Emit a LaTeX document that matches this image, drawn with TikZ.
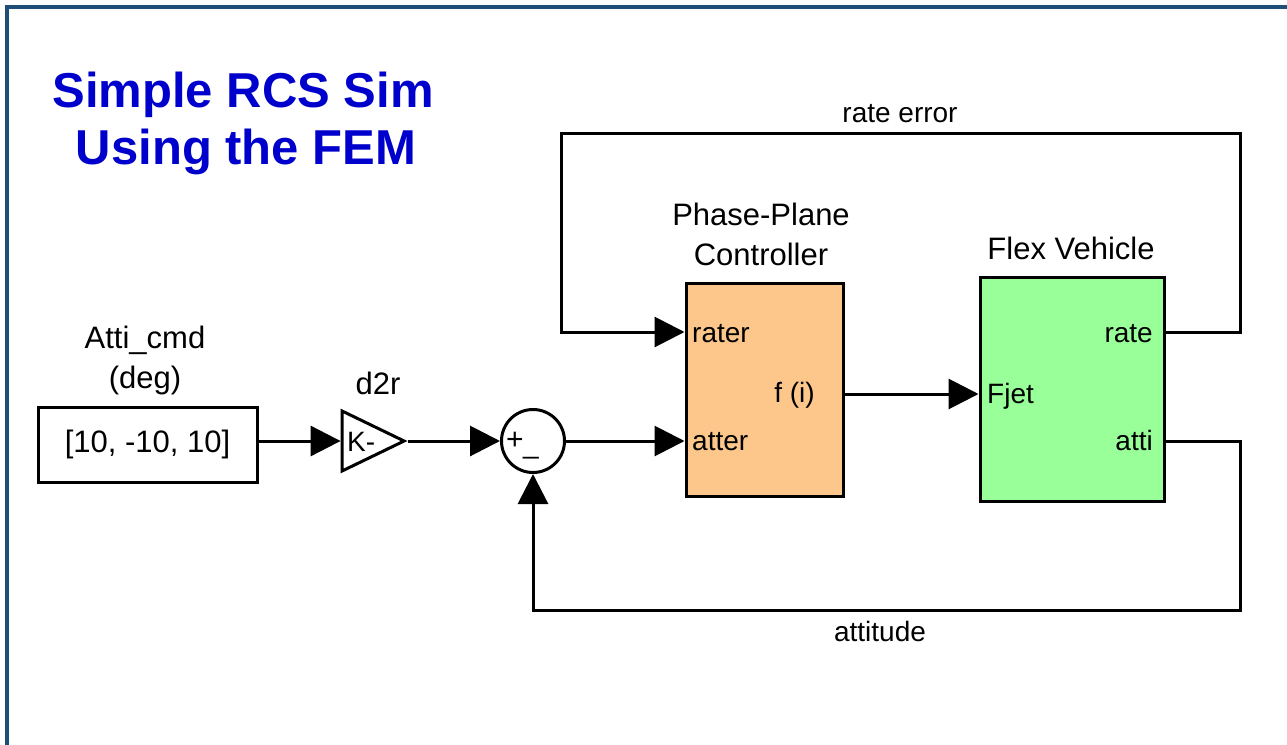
\documentclass[tikz,border=0pt]{standalone}
\usepackage{fontspec}
\setmainfont{Liberation Sans}
\usetikzlibrary{arrows.meta,shapes.geometric}
\definecolor{framec}{HTML}{1F4E79}
\definecolor{titlec}{HTML}{0000CC}
\definecolor{ctrlc}{HTML}{FDC78C}
\definecolor{vehc}{HTML}{99FF99}
\begin{document}
\begin{tikzpicture}[x=1pt,y=-1pt,
  blk/.style={draw, line width=3pt, inner sep=0pt},
  sig/.style={line width=3pt, -{Triangle[length=30pt,width=30pt]}},
  portl/.style={font=\fontsize{28}{32}\selectfont, inner sep=0pt},
  namel/.style={font=\fontsize{31}{36}\selectfont, inner sep=0pt},
  titl/.style={titlec, font=\fontsize{49}{58}\bfseries\selectfont, inner sep=0pt, anchor=base}
]
\useasboundingbox (0,0) rectangle (1287,744);
\draw[framec, line width=3.2pt] (7,746) -- (7,7) -- (1289,7);

% title
\node[titl] (t1) at (243,107) {Simple RCS Sim};
\node[titl] (t2) at (246,164) {Using the FEM};

% blocks
\node[blk, namel, minimum width=219pt, minimum height=75pt] (const) at (147.5,444.5) {[10, -10, 10]};
\node[blk, isosceles triangle, isosceles triangle stretches, minimum width=60pt, minimum height=62pt, anchor=apex] (gain) at (408,441) {};
\node[portl, anchor=base west] (gk) at (347,451) {K-};
\node[blk, circle, minimum size=63pt] (sum) at (533,441) {};
\node[font=\fontsize{30}{34}\selectfont, inner sep=0pt] (plus) at (515,441) {+};
\node[font=\fontsize{28}{32}\selectfont, inner sep=0pt] (minus) at (531,456) {\_};
\node[blk, fill=ctrlc, minimum width=157pt, minimum height=213pt] (ctrl) at (764.5,389.5) {};
\node[blk, fill=vehc, minimum width=184pt, minimum height=224pt] (veh) at (1072,389) {};

% block names
\node[namel, anchor=base] (n1) at (145,348) {Atti\_cmd};
\node[namel, anchor=base] (n2) at (145,388) {(deg)};
\node[namel, anchor=base] (n3) at (378,394) {d2r};
\node[namel, anchor=base] (n4) at (761,225) {Phase-Plane};
\node[namel, anchor=base] (n5) at (761,265) {Controller};
\node[namel, anchor=base] (n6) at (1071,259) {Flex Vehicle};

% port labels
\node[portl, anchor=base west] (prater) at (692,342) {rater};
\node[portl, anchor=base west] (patter) at (692,450) {atter};
\node[portl, anchor=base east] (pfi) at (815,402) {f (i)};
\node[portl, anchor=base west] (pfjet) at (987,403) {Fjet};
\node[portl, anchor=base east] (prate) at (1153,342) {rate};
\node[portl, anchor=base east] (patti) at (1153,450) {atti};

% signal labels
\node[portl, anchor=base] (l1) at (900,122) {rate error};
\node[portl, anchor=base] (l2) at (880,641) {attitude};

% port coordinates
\coordinate (ctrlin1) at (ctrl.west |- 0,332);
\coordinate (ctrlin2) at (ctrl.west |- 0,441);
\coordinate (ctrlout) at (ctrl.east |- 0,394);
\coordinate (vehin) at (veh.west |- 0,394);
\coordinate (vehout1) at (veh.east |- 0,332);
\coordinate (vehout2) at (veh.east |- 0,441);
\coordinate (rTR) at (1240,133);
\coordinate (rTL) at (561,133);
\coordinate (aBR) at (1240,610);
\coordinate (aBL) at (533,610);

% connectors
\draw[sig] (const.east |- gain.lower side) -- (gain.lower side);
\draw[sig] (gain.apex) -- (sum.west);
\draw[sig] (sum.east) -- (ctrlin2);
\draw[sig] (ctrlout) -- (vehin);
\draw[sig] (vehout1) -- (rTR |- vehout1) -- (rTR) -- (rTL) -- (rTL |- ctrlin1) -- (ctrlin1);
\draw[sig] (vehout2) -- (aBR |- vehout2) -- (aBR) -- (aBL) -- (sum.south);
\end{tikzpicture}
\end{document}
